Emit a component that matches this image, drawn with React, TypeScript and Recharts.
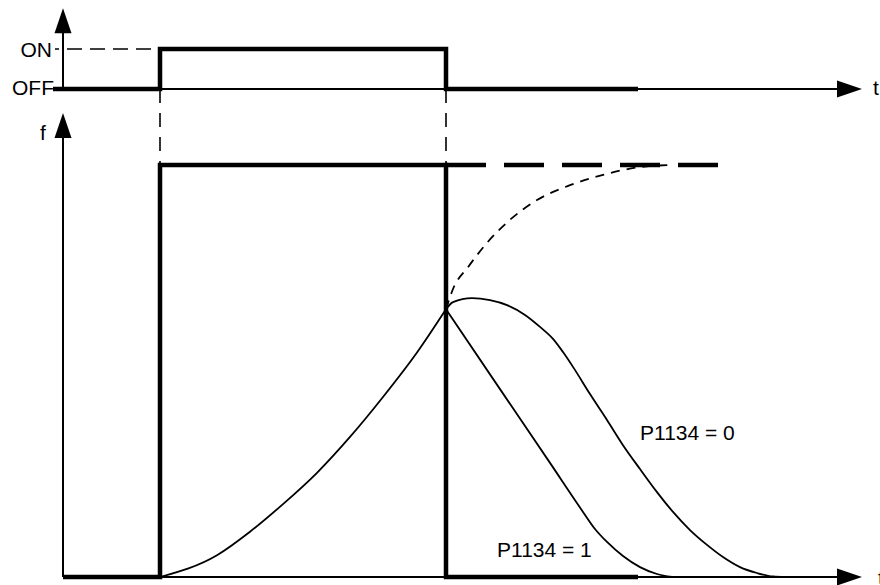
import React from 'react';
import { ComposedChart, Line, XAxis, YAxis, ReferenceLine, ReferenceDot } from 'recharts';

// ---------------- data (time units, f in % of setpoint, command 0 = OFF / 1 = ON)
const T_ON = 97;
const T_OFF = 383;
const F_SET = 100;
const T_AXIS_TIP = 799;
const SIG_AXIS_TIP = 2.02;
const F_AXIS_TIP = 112.6;

const commandT = [-10, 97, 97, 383, 383, 575];
const commandV = [0, 0, 1, 1, 0, 0];

const setpointT = [0, 97, 97, 383, 383, 575];
const setpointF = [0, 0, 100, 100, 0, 0];

const setpointHoldT = [383, 657];
const setpointHoldF = [100, 100];

const rampUpT = [97, 154, 187, 220, 254, 287, 320, 354, 383];
const rampUpF = [0, 5.3, 11.0, 17.7, 25.3, 34.0, 43.7, 54.5, 65];

const rampContT = [383, 390, 405, 424, 447, 474, 507, 540, 574, 607];
const rampContF = [65, 69.9, 75.2, 81.1, 86.7, 91.5, 95.1, 97.6, 99.4, 100];

const p1134is1T = [383, 437, 487, 520, 532, 544, 560, 577, 594, 609];
const p1134is1F = [65, 45.6, 27.7, 15.8, 11.65, 8.5, 5.1, 2.4, 0.73, 0];

const p1134is0T = [383, 390, 409, 427, 444, 462, 477, 490, 500, 510, 527, 544, 560, 577, 594, 610, 627, 644, 660, 677, 694, 710, 722];
const p1134is0F = [65, 66.7, 67.7, 67.2, 66.0, 63.6, 60.7, 57.8, 54.6, 51.0, 44.4, 38.1, 32.0, 26.2, 20.6, 15.8, 11.4, 7.8, 4.85, 2.4, 0.97, 0.12, 0];

// ---------------- layout (pixels)
const W = 880;
const H = 585;
const X0 = 63;
const F0_Y = 577;
const FSET_Y = 165;
const SIG_OFF_Y = 89;
const SIG_ON_Y = 49;

const fPx = (F0_Y - FSET_Y) / F_SET;
const sigPx = SIG_OFF_Y - SIG_ON_Y;
const xDomain = [-X0, W - X0];
const fDomain = [(F0_Y - H) / fPx, F0_Y / fPx];
const sigDomain = [(SIG_OFF_Y - H) / sigPx, SIG_OFF_Y / sigPx];
const fAtSigOff = (F0_Y - SIG_OFF_Y) / fPx;

const zip = (ts: number[], vs: number[]) => ts.map((t, i) => ({ t, v: vs[i] }));

const FONT = "'Liberation Sans', Arial, sans-serif";
const ARROW_LEN = 25;
const ARROW_HALF = 8.5;

const arrow = (dir: 'up' | 'right') => (p: any) => {
  const { cx, cy } = p;
  const pts =
    dir === 'up'
      ? `${cx},${cy} ${cx - ARROW_HALF},${cy + ARROW_LEN} ${cx + ARROW_HALF},${cy + ARROW_LEN}`
      : `${cx},${cy} ${cx - ARROW_LEN},${cy - ARROW_HALF} ${cx - ARROW_LEN},${cy + ARROW_HALF}`;
  return <polygon points={pts} fill="#000" stroke="none" />;
};

const textShape = (label: string, anchor: 'start' | 'end', dx: number, dy: number) => (p: any) => (
  <text x={p.cx + dx} y={p.cy + dy} textAnchor={anchor} fontFamily={FONT} fontSize={21} fill="#000">
    {label}
  </text>
);

const lineBase = { stroke: '#000', dot: false, activeDot: false, isAnimationActive: false } as const;

export default function App() {
  const thin = { stroke: '#000', strokeWidth: 2 };
  return (
    <div style={{ position: 'absolute', left: 0, top: 0, width: W, height: H, background: '#fff' }}>
      <ComposedChart width={W} height={H} margin={{ top: 0, right: 0, bottom: 0, left: 0 }}>
        <XAxis dataKey="t" type="number" domain={xDomain} allowDataOverflow hide />
        <YAxis yAxisId="f" type="number" domain={fDomain} allowDataOverflow hide />
        <YAxis yAxisId="sig" type="number" domain={sigDomain} allowDataOverflow hide />

        {/* axes */}
        <ReferenceLine yAxisId="sig" segment={[{ x: 0, y: 0 }, { x: 0, y: SIG_AXIS_TIP - 0.3 }]} {...thin} />
        <ReferenceLine yAxisId="sig" segment={[{ x: 0, y: 0 }, { x: T_AXIS_TIP - 10, y: 0 }]} {...thin} />
        <ReferenceLine yAxisId="f" segment={[{ x: 0, y: 0 }, { x: 0, y: F_AXIS_TIP - 3 }]} {...thin} />
        <ReferenceLine yAxisId="f" segment={[{ x: 0, y: 0 }, { x: T_AXIS_TIP - 10, y: 0 }]} {...thin} />

        {/* dashed guides */}
        <ReferenceLine yAxisId="sig" segment={[{ x: -8, y: 1 }, { x: T_ON, y: 1 }]} stroke="#000" strokeWidth={1.6} strokeDasharray="15 8" strokeDashoffset={11} />
        <ReferenceLine yAxisId="f" segment={[{ x: T_ON, y: fAtSigOff }, { x: T_ON, y: F_SET }]} stroke="#000" strokeWidth={1.6} strokeDasharray="14 10" />
        <ReferenceLine yAxisId="f" segment={[{ x: T_OFF, y: fAtSigOff }, { x: T_OFF, y: F_SET }]} stroke="#000" strokeWidth={1.6} strokeDasharray="14 10" />

        {/* curves */}
        <Line yAxisId="f" data={zip(rampUpT, rampUpF)} dataKey="v" type="monotone" strokeWidth={1.8} {...lineBase} />
        <Line yAxisId="f" data={zip(rampContT, rampContF)} dataKey="v" type="monotone" strokeWidth={1.8} strokeDasharray="9 7" {...lineBase} />
        <Line yAxisId="f" data={zip(p1134is1T, p1134is1F)} dataKey="v" type="monotone" strokeWidth={1.8} {...lineBase} />
        <Line yAxisId="f" data={zip(p1134is0T, p1134is0F)} dataKey="v" type="monotone" strokeWidth={1.8} {...lineBase} />

        {/* bold signals */}
        <Line yAxisId="f" data={zip(setpointHoldT, setpointHoldF)} dataKey="v" type="linear" strokeWidth={4.5} strokeDasharray="40 18" {...lineBase} />
        <Line yAxisId="f" data={zip(setpointT, setpointF)} dataKey="v" type="linear" strokeWidth={4.5} strokeLinejoin="miter" {...lineBase} />
        <Line yAxisId="sig" data={zip(commandT, commandV)} dataKey="v" type="linear" strokeWidth={4.5} strokeLinejoin="miter" {...lineBase} />

        {/* arrow heads */}
        <ReferenceDot yAxisId="sig" x={0} y={SIG_AXIS_TIP} shape={arrow('up')} />
        <ReferenceDot yAxisId="sig" x={T_AXIS_TIP} y={0} shape={arrow('right')} />
        <ReferenceDot yAxisId="f" x={0} y={F_AXIS_TIP} shape={arrow('up')} />
        <ReferenceDot yAxisId="f" x={T_AXIS_TIP} y={0} shape={arrow('right')} />

        {/* labels */}
        <ReferenceDot yAxisId="sig" x={-11} y={1} shape={textShape('ON', 'end', 0, 8)} />
        <ReferenceDot yAxisId="sig" x={-9} y={0} shape={textShape('OFF', 'end', 0, 6)} />
        <ReferenceDot yAxisId="sig" x={T_AXIS_TIP} y={0} shape={textShape('t', 'start', 11, 6)} />
        <ReferenceDot yAxisId="f" x={0} y={F_AXIS_TIP} shape={textShape('f', 'start', -23, 27)} />
        <ReferenceDot yAxisId="f" x={T_AXIS_TIP} y={0} shape={textShape('t', 'start', 16, 8)} />
        <ReferenceDot yAxisId="f" x={577} y={33.3} shape={textShape('P1134 = 0', 'start', 0, 0)} />
        <ReferenceDot yAxisId="f" x={434} y={4.85} shape={textShape('P1134 = 1', 'start', 0, 0)} />
      </ComposedChart>
    </div>
  );
}
